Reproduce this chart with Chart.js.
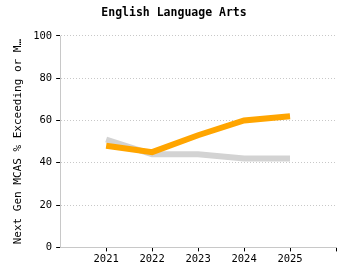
<!DOCTYPE html>
<html>
<head>
<meta charset="utf-8">
<script src="https://cdn.jsdelivr.net/npm/chart.js@4"></script>
<style>
  html, body { margin: 0; padding: 0; background: #fff; }
  #wrap { width: 350px; height: 280px; }
</style>
</head>
<body>
<div id="wrap"><canvas id="elaChart"></canvas></div>
<script>
// --- data ---
const years = ['', '2021', '2022', '2023', '2024', '2025', ''];
const stateValues = [null, 51, 44, 44, 42, 42, null];   // grey line
const schoolValues = [null, 48, 45, 53, 60, 62, null];  // orange line
const yTicks = [0, 20, 40, 60, 80, 100];

const monoFont = '"DejaVu Sans Mono", monospace';
const axisGrey = '#c8c8c8';

new Chart(document.getElementById('elaChart'), {
    type: 'line',
    data: {
        labels: years,
        datasets: [
            {
                data: schoolValues,
                borderColor: '#ffa500',
                borderWidth: 6,
                pointRadius: 0,
                tension: 0,
                order: 0   // orange sits on top
            },
            {
                data: stateValues,
                borderColor: '#d3d3d3',
                borderWidth: 6,
                pointRadius: 0,
                tension: 0,
                order: 1
            }
        ]
    },
    options: {
        responsive: true,
        maintainAspectRatio: false,
        animation: false,
        layout: { padding: { left: 12, right: 14, bottom: 12, top: 0 } },
        plugins: {
            legend: { display: false },
            tooltip: { enabled: false },
            title: {
                display: true,
                text: 'English Language Arts',
                color: '#000',
                font: { family: monoFont, size: 11.5, weight: 'bold' },
                padding: { top: 6, bottom: 16 }
            }
        },
        scales: {
            x: {
                offset: false,
                // only the first vertical line is drawn: it stands in for the solid y axis
                grid: {
                    display: true,
                    drawOnChartArea: true,
                    color: ctx => ctx.index === 0 ? axisGrey : 'rgba(0,0,0,0)',
                    tickLength: 4,
                    tickWidth: 1,
                    tickColor: ctx => ctx.index === 0 ? 'rgba(0,0,0,0)' : '#000'
                },
                border: { display: true, color: axisGrey, width: 1 },
                ticks: {
                    color: '#000',
                    font: { family: monoFont, size: 10.5 },
                    maxRotation: 0,
                    autoSkip: false,
                    padding: 2
                }
            },
            y: {
                min: 0,
                max: 100,
                afterBuildTicks: axis => { axis.ticks = yTicks.map(v => ({ value: v })); },
                grid: {
                    color: axisGrey,
                    tickColor: '#000',
                    tickWidth: 1,
                    tickLength: 4,
                    lineWidth: 1
                },
                border: { display: true, color: 'rgba(0,0,0,0)', width: 1, dash: [1, 2] },
                ticks: {
                    color: '#000',
                    font: { family: monoFont, size: 10.5 },
                    padding: 4
                },
                title: {
                    display: true,
                    text: 'Next Gen MCAS % Exceeding or M…',
                    color: '#000',
                    font: { family: monoFont, size: 11 },
                    padding: { top: 0, bottom: 4 }
                }
            }
        }
    }
});
</script>
</body>
</html>
